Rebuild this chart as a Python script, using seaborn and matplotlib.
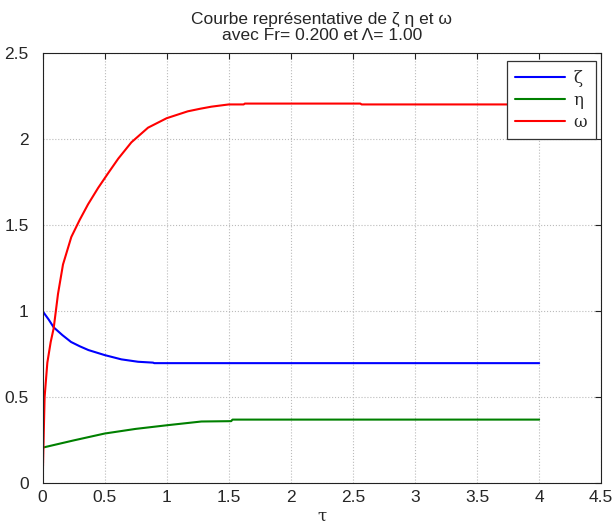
import matplotlib
matplotlib.use("Agg")
import matplotlib.pyplot as plt
import seaborn as sns
import pandas as pd

# ---- data ----
tau_zeta = [0.0, 0.05, 0.09, 0.16, 0.23, 0.30, 0.37, 0.50, 0.635, 0.77, 0.89, 0.90, 1.5, 2.5, 3.5, 4.0]
zeta     = [1.0, 0.95, 0.905, 0.86, 0.82, 0.795, 0.773, 0.744, 0.719, 0.705, 0.700, 0.697, 0.697, 0.697, 0.697, 0.697]

tau_eta = [0.0, 0.25, 0.5, 0.75, 1.0, 1.28, 1.52, 1.53, 2.5, 3.5, 4.0]
eta     = [0.206, 0.248, 0.288, 0.315, 0.336, 0.358, 0.360, 0.369, 0.369, 0.369, 0.369]

tau_omega = [0.0, 0.001, 0.01, 0.017, 0.039, 0.066, 0.09, 0.125, 0.165, 0.232, 0.30, 0.367, 0.448,
             0.528, 0.61, 0.716, 0.85, 1.0, 1.17, 1.27, 1.36, 1.50, 1.62, 1.63, 2.56, 2.57, 3.5, 4.0]
omega     = [0.0, 0.0, 0.29, 0.50, 0.70, 0.82, 0.90, 1.10, 1.27, 1.43, 1.53, 1.62, 1.715,
             1.80, 1.885, 1.98, 2.065, 2.12, 2.16, 2.175, 2.187, 2.20, 2.20, 2.205, 2.205, 2.20, 2.20, 2.20]

series_names = ["ζ", "η", "ω"]
series_colors = ["#0000ff", "#008000", "#ff0000"]

frames = []
for name, t, v in zip(series_names, [tau_zeta, tau_eta, tau_omega], [zeta, eta, omega]):
    frames.append(pd.DataFrame({"tau": t, "val": v, "serie": name}))
df = pd.concat(frames, ignore_index=True)

sns.set_style("white")
plt.rcParams["font.family"] = ["Liberation Sans", "DejaVu Sans"]

fig = plt.figure(figsize=(6.16, 5.28), dpi=100)
ax = fig.add_axes([0.069, 0.085, 0.907, 0.815])

sns.lineplot(data=df, x="tau", y="val", hue="serie", palette=dict(zip(series_names, series_colors)),
             estimator=None, sort=False, linewidth=1.5, ax=ax)

ax.set_xlim(0, 4.5)
ax.set_ylim(0, 2.5)
ax.set_xticks([0, 0.5, 1, 1.5, 2, 2.5, 3, 3.5, 4, 4.5])
ax.set_xticklabels(["0", "0.5", "1", "1.5", "2", "2.5", "3", "3.5", "4", "4.5"])
ax.set_yticks([0, 0.5, 1, 1.5, 2, 2.5])
ax.set_yticklabels(["0", "0.5", "1", "1.5", "2", "2.5"])
ax.grid(True, linestyle=":", color="#bbbbbb", linewidth=0.8)
ax.tick_params(direction="in", top=True, right=True, length=4, labelsize=12.5, color="#222222")
ax.tick_params(axis="y", pad=10)
ax.tick_params(axis="x", pad=5)
for s in ax.spines.values():
    s.set_color("#222222")
    s.set_linewidth(0.8)

ax.set_xlabel("τ", fontsize=12, labelpad=2, family=["DejaVu Serif"])
ax.set_ylabel("")
ax.set_title("Courbe représentative de ζ η et ω\navec Fr= 0.200 et Λ= 1.00", fontsize=12.5,
             pad=9, linespacing=1.1)

leg = ax.legend(loc="upper right", prop={"family": "DejaVu Serif", "size": 12}, frameon=True,
                fancybox=False, framealpha=1.0, handlelength=3.0, handletextpad=0.5,
                borderaxespad=0.0, edgecolor="#333333", labelspacing=0.3,
                borderpad=0.5, bbox_to_anchor=(0.99, 0.98))
leg.get_frame().set_linewidth(0.9)

fig.savefig("out.png", dpi=100)
